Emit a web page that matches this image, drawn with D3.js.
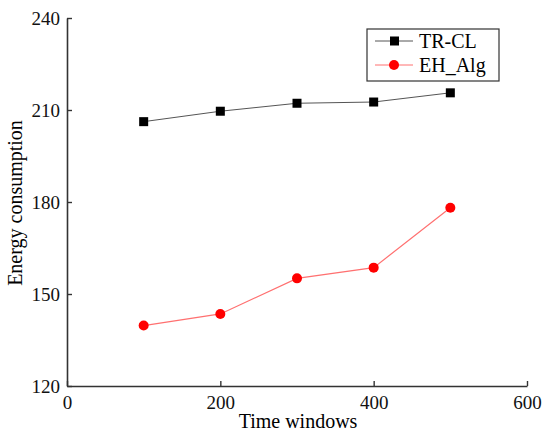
<!DOCTYPE html>
<html>
<head>
<meta charset="utf-8">
<script src="https://cdn.jsdelivr.net/npm/d3@7"></script>
<style>
  body { margin: 0; background: #fff; }
  text { font-family: "Liberation Serif", "Times New Roman", serif; }
</style>
</head>
<body>
<div id="chart"></div>
<script>
var windows = [100, 200, 300, 400, 500];
var trcl = [206.2, 209.6, 212.2, 212.6, 215.6];
var ehAlg = [139.7, 143.5, 155.1, 158.6, 178.1];
var xTicks = [0, 200, 400, 600];
var yTicks = [120, 150, 180, 210, 240];

var width = 544, height = 433;
var mLeft = 67, mRight = 527, mTop = 18, mBottom = 386;

var svg = d3.select("#chart").append("svg")
  .attr("width", width)
  .attr("height", height);

var x = d3.scaleLinear().domain([0, 600]).range([mLeft, mRight]);
var y = d3.scaleLinear().domain([120, 240]).range([mBottom, mTop]);

// axes, ticks point inward
var xAxis = svg.append("g")
  .attr("transform", "translate(0," + mBottom + ")")
  .call(d3.axisBottom(x).tickValues(xTicks).tickSizeInner(-5).tickSizeOuter(0).tickPadding(10));
var yAxis = svg.append("g")
  .attr("transform", "translate(" + mLeft + ",0)")
  .call(d3.axisLeft(y).tickValues(yTicks).tickSizeInner(-5).tickSizeOuter(0).tickPadding(8));

[xAxis, yAxis].forEach(function(a) {
  a.select(".domain").attr("stroke", "#333").attr("stroke-width", 1.6);
  a.selectAll(".tick line").attr("stroke", "#333").attr("stroke-width", 1.4);
  a.selectAll(".tick text").attr("fill", "#111").style("font-size", "19px")
    .style("font-family", "Liberation Serif");
});
xAxis.selectAll(".tick text").attr("y", 9).attr("dy", "0.75em");
yAxis.selectAll(".tick text").attr("x", -7).attr("dy", "0.32em");

// labels
svg.append("text")
  .attr("x", 298).attr("y", 428)
  .attr("text-anchor", "middle")
  .style("font-size", "20px")
  .text("Time windows");
svg.append("text")
  .attr("transform", "translate(22,203) rotate(-90)")
  .attr("text-anchor", "middle")
  .style("font-size", "20px")
  .text("Energy consumption");

var line = d3.line()
  .x(function(d, i) { return x(windows[i]); })
  .y(function(d) { return y(d); });

svg.append("path").datum(trcl)
  .attr("d", line)
  .attr("fill", "none")
  .attr("stroke", "#555")
  .attr("stroke-width", 1);
svg.selectAll(".sq").data(trcl).enter().append("rect")
  .attr("x", function(d, i) { return x(windows[i]) - 4.5; })
  .attr("y", function(d) { return y(d) - 4.5; })
  .attr("width", 9).attr("height", 9)
  .attr("fill", "#000");

svg.append("path").datum(ehAlg)
  .attr("d", line)
  .attr("fill", "none")
  .attr("stroke", "#ff7070")
  .attr("stroke-width", 1.2);
svg.selectAll(".dot").data(ehAlg).enter().append("circle")
  .attr("cx", function(d, i) { return x(windows[i]); })
  .attr("cy", function(d) { return y(d); })
  .attr("r", 5)
  .attr("fill", "#ff0000");

// legend
var lg = svg.append("g");
lg.append("rect")
  .attr("x", 367).attr("y", 29).attr("width", 132).attr("height", 52)
  .attr("fill", "#fff").attr("stroke", "#333").attr("stroke-width", 1.2);
var names = ["TR-CL", "EH_Alg"];
var colors = ["#555", "#ff7070"];
names.forEach(function(n, i) {
  var cy = 41 + i * 24;
  lg.append("line").attr("x1", 375).attr("x2", 413).attr("y1", cy).attr("y2", cy)
    .attr("stroke", colors[i]).attr("stroke-width", 1);
  if (i === 0) {
    lg.append("rect").attr("x", 390).attr("y", cy - 4.5).attr("width", 9).attr("height", 9).attr("fill", "#000");
  } else {
    lg.append("circle").attr("cx", 394).attr("cy", cy).attr("r", 5).attr("fill", "#ff0000");
  }
  lg.append("text").attr("x", 419).attr("y", cy + 7)
    .style("font-size", "20px").text(n);
});
</script>
</body>
</html>
